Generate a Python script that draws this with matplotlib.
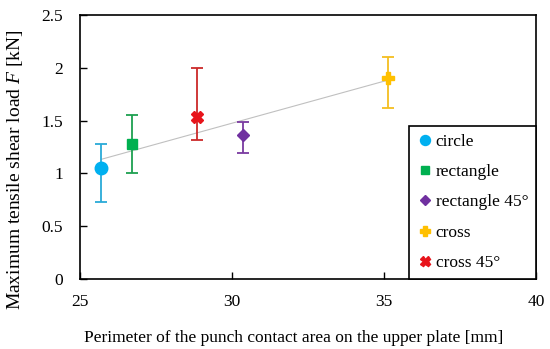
import numpy as np
import matplotlib
matplotlib.use('Agg')
import matplotlib.pyplot as plt

plt.rcParams['font.family'] = ['Liberation Serif', 'DejaVu Serif']
plt.rcParams['mathtext.fontset'] = 'custom'
plt.rcParams['mathtext.it'] = 'Liberation Serif:italic'
plt.rcParams['mathtext.rm'] = 'Liberation Serif'

# data
shapes = ['circle', 'rectangle', 'rectangle 45°', 'cross', 'cross 45°']
perimeter = [25.7, 26.7, 30.37, 35.14, 28.86]
load = [1.05, 1.28, 1.36, 1.90, 1.53]
err_low = [0.73, 1.00, 1.19, 1.62, 1.32]
err_high = [1.28, 1.55, 1.49, 2.105, 2.0]

markers = ['o', 's', 'D', 'P', 'X']
sizes = [9, 7, 6, 9, 9]
colors = ['#00B0F0', '#00B050', '#7030A0', '#FFC000', '#E8141B']
err_colors = ['#2AAAD8', '#1EA050', '#7A3AA0', '#F5BE20', '#CC2A2A']

fig = plt.figure(figsize=(5.5, 3.49), dpi=100)
ax = fig.add_axes([0.1455, 0.2006, 0.829, 0.7564])

# linear trend through all points
coef = np.polyfit(perimeter, load, 1)
xs = np.array([min(perimeter), max(perimeter)])
ax.plot(xs, np.polyval(coef, xs), color='#c0c0c0', lw=0.8, zorder=1)

for i in range(len(shapes)):
    yerr = [[load[i] - err_low[i]], [err_high[i] - load[i]]]
    ax.errorbar([perimeter[i]], [load[i]], yerr=yerr, fmt='none',
                ecolor=err_colors[i], elinewidth=1.3, capsize=4, capthick=1.3, zorder=2)
    ax.plot(perimeter[i], load[i], linestyle='none', marker=markers[i], ms=sizes[i],
            color=colors[i], mec=colors[i], label=shapes[i], zorder=3)

ax.set_xlim(25, 40)
ax.set_ylim(0, 2.5)
ax.set_xticks([25, 30, 35, 40])
ax.set_yticks([0, 0.5, 1, 1.5, 2, 2.5])
ax.set_yticklabels(['0', '0.5', '1', '1.5', '2', '2.5'])
ax.tick_params(direction='in', length=5, labelsize=12.5, width=1)
ax.tick_params(axis='x', pad=11)
ax.tick_params(axis='y', pad=12)
for s in ax.spines.values():
    s.set_linewidth(1.2)

ax.set_xlabel('Perimeter of the punch contact area on the upper plate [mm]', fontsize=12.5)
ax.set_ylabel('Maximum tensile shear load $F$ [kN]', fontsize=14)
ax.xaxis.set_label_coords(0.469, -0.225)
ax.xaxis.label.set_va('center')
ax.yaxis.set_label_coords(-0.1425, 0.413)
ax.yaxis.label.set_va('center')

leg = ax.legend(loc='lower right', borderaxespad=0, fontsize=12.5, fancybox=False,
                edgecolor='black', framealpha=1, handletextpad=0.1, handlelength=1.0,
                labelspacing=0.82, borderpad=0.45, markerscale=0.8)
leg.get_frame().set_linewidth(1.2)

fig.savefig('out.png', dpi=100)
